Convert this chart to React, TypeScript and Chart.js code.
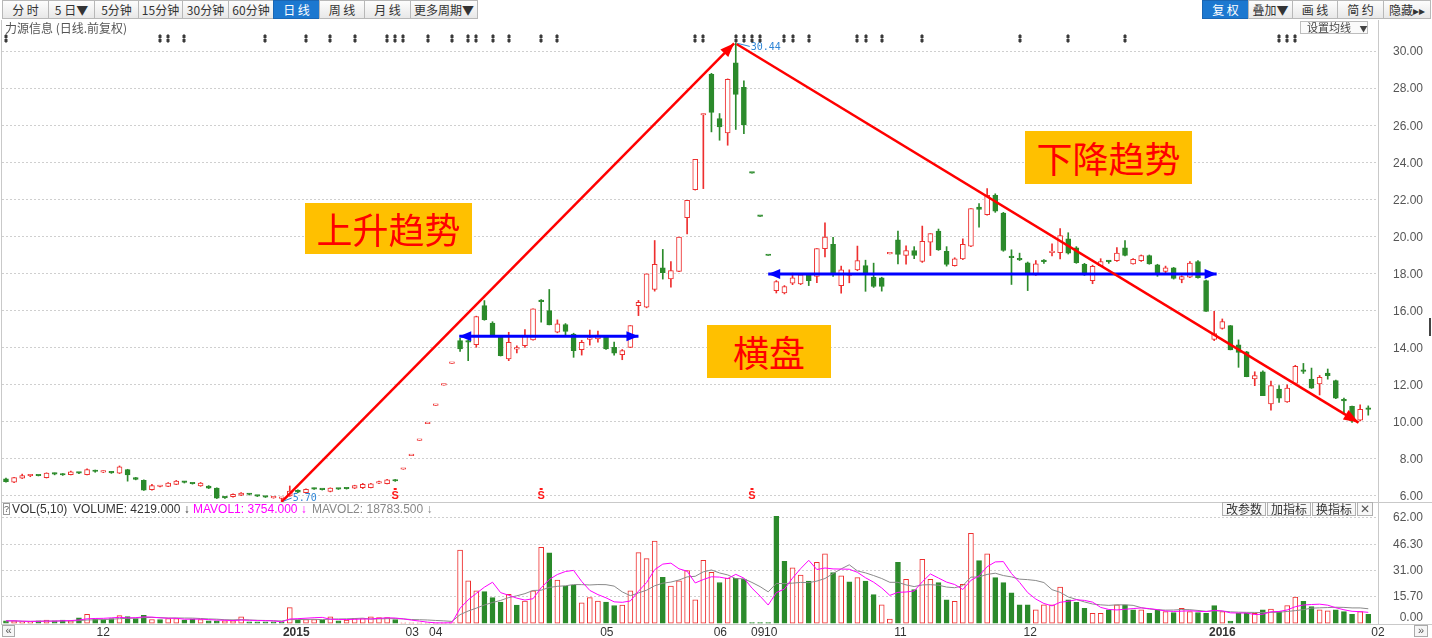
import React, { useEffect, useRef } from "react";
import { Chart, registerables } from "chart.js";

Chart.register(...registerables);

// ---------------- data (daily candles, index 0..168) ----------------
const opens = [
  6.93, 6.74, 6.96, 7.09, 7.11, 6.99, 7.20, 7.19, 7.15, 7.25,
  7.15, 7.34, 7.29, 7.27, 7.23, 7.42, 6.99, 6.85, 6.34, 6.51,
  6.52, 6.63, 6.75, 6.69, 6.54, 6.54, 6.42, 5.92, 5.96, 6.04,
  6.10, 6.01, 5.96, 5.90, 5.87, 6.00, 6.30, 6.18, 6.39, 6.36,
  6.24, 6.39, 6.41, 6.42, 6.45, 6.45, 6.69, 6.67, 6.87, 7.44,
  8.18, 9.00, 9.90, 10.89, 11.98, 13.15, 14.38, 14.35, 14.16, 16.27,
  15.33, 14.61, 13.39, 13.92, 14.11, 14.42, 16.50, 16.00, 14.83, 15.24,
  14.74, 13.89, 14.45, 14.47, 14.65, 14.02, 13.62, 14.02, 16.27, 16.18,
  17.14, 18.31, 17.71, 18.12, 21.01, 22.52, 26.55, 28.74, 26.36, 25.58,
  29.37, 28.04, 23.42, 21.08, 18.97, 17.08, 16.96, 17.48, 17.44, 17.93,
  17.85, 19.34, 19.57, 17.35, 17.90, 18.20, 18.43, 17.80, 17.77, 19.06,
  19.82, 18.97, 19.24, 18.65, 19.69, 20.29, 19.20, 18.43, 18.79, 19.48,
  21.58, 21.17, 22.22, 21.26, 18.90, 18.78, 18.58, 17.93, 18.66, 19.13,
  19.12, 19.87, 19.39, 18.49, 17.62, 18.42, 18.66, 18.70, 19.39, 18.52,
  18.70, 18.97, 18.47, 18.11, 18.31, 17.68, 17.80, 18.65, 17.62, 14.45,
  15.04, 15.19, 14.16, 13.78, 12.31, 12.70, 10.96, 11.77, 11.08, 12.07,
  12.81, 12.31, 12.04, 12.63, 12.22, 11.15, 10.83, 10.09, 10.69,
];
const highs = [
  6.96, 7.01, 7.18, 7.16, 7.13, 7.25, 7.24, 7.21, 7.34, 7.28,
  7.46, 7.40, 7.36, 7.32, 7.62, 7.44, 7.00, 6.87, 6.63, 6.56,
  6.72, 6.84, 6.79, 6.70, 6.73, 6.56, 6.44, 5.95, 6.11, 6.18,
  6.13, 6.03, 5.98, 5.94, 5.91, 6.54, 6.33, 6.38, 6.42, 6.38,
  6.44, 6.41, 6.43, 6.58, 6.68, 6.68, 6.80, 6.90, 6.89, 7.44,
  8.18, 9.00, 9.90, 10.89, 11.98, 13.15, 14.50, 14.40, 15.70, 16.54,
  15.40, 14.63, 14.83, 14.10, 14.97, 16.09, 16.60, 17.14, 15.50, 15.30,
  14.78, 14.40, 14.95, 14.90, 14.66, 14.30, 13.90, 15.19, 16.55, 17.98,
  19.78, 19.30, 18.65, 19.96, 21.95, 24.16, 26.60, 28.80, 26.63, 28.50,
  30.44, 28.40, 23.42, 21.08, 18.97, 17.62, 17.35, 18.02, 17.97, 17.96,
  19.34, 20.74, 19.95, 18.40, 18.20, 19.48, 18.72, 18.56, 17.80, 19.06,
  20.29, 19.50, 19.45, 20.56, 20.15, 20.40, 19.45, 18.85, 19.87, 21.50,
  21.77, 22.58, 22.30, 21.30, 19.28, 19.10, 18.62, 18.70, 18.75, 19.60,
  20.42, 20.20, 19.45, 18.55, 18.45, 18.80, 18.70, 19.40, 19.78, 18.80,
  19.00, 19.00, 18.50, 18.40, 18.33, 17.88, 18.65, 18.70, 17.65, 15.96,
  15.55, 15.20, 14.42, 13.80, 12.70, 12.75, 12.20, 11.95, 12.00, 13.05,
  13.15, 12.90, 12.50, 12.85, 12.25, 11.28, 10.85, 10.92, 10.86,
];
const lows = [
  6.74, 6.72, 6.94, 7.04, 7.08, 6.97, 7.14, 7.11, 7.13, 7.20,
  7.13, 7.28, 7.26, 7.22, 7.21, 6.80, 6.87, 6.30, 6.32, 6.49,
  6.50, 6.61, 6.70, 6.64, 6.52, 6.40, 5.86, 5.87, 5.94, 6.02,
  6.05, 5.97, 5.92, 5.88, 5.70, 5.98, 6.18, 6.16, 6.35, 6.32,
  6.22, 6.35, 6.37, 6.40, 6.40, 6.43, 6.67, 6.65, 6.79, 7.44,
  8.18, 9.00, 9.90, 10.89, 11.98, 13.15, 13.80, 13.30, 14.02, 15.48,
  14.68, 13.55, 13.30, 13.72, 14.02, 14.40, 15.37, 15.23, 14.80, 14.70,
  13.48, 13.60, 14.14, 14.30, 13.90, 13.60, 13.35, 14.00, 15.73, 16.15,
  17.05, 17.70, 17.26, 18.10, 20.14, 22.50, 22.58, 25.64, 25.19, 24.92,
  25.77, 25.55, 23.42, 21.08, 18.97, 16.95, 16.90, 17.40, 17.40, 17.35,
  17.50, 18.90, 17.85, 16.94, 17.50, 18.15, 17.04, 17.25, 17.05, 19.06,
  18.52, 18.50, 18.80, 18.60, 18.97, 19.25, 18.40, 18.40, 18.75, 19.45,
  20.50, 21.15, 21.30, 19.20, 17.41, 18.70, 17.08, 17.90, 18.55, 18.95,
  18.79, 19.05, 18.55, 17.90, 17.45, 18.40, 18.55, 18.65, 18.95, 18.50,
  18.65, 18.50, 17.85, 18.00, 17.70, 17.50, 17.78, 17.75, 15.96, 14.38,
  15.00, 13.88, 12.94, 12.43, 11.95, 11.41, 10.63, 11.05, 11.05, 12.05,
  12.61, 11.80, 11.45, 12.30, 11.25, 10.50, 9.97, 10.05, 10.36,
];
const closes = [
  6.77, 6.99, 7.10, 7.11, 7.09, 7.23, 7.18, 7.13, 7.30, 7.23,
  7.42, 7.32, 7.31, 7.25, 7.57, 7.14, 6.89, 6.32, 6.56, 6.53,
  6.70, 6.81, 6.73, 6.66, 6.70, 6.42, 5.88, 5.90, 6.09, 6.16,
  6.08, 5.99, 5.94, 5.92, 5.89, 6.27, 6.20, 6.36, 6.37, 6.34,
  6.42, 6.37, 6.39, 6.56, 6.63, 6.65, 6.78, 6.87, 6.81, 7.44,
  8.18, 9.00, 9.90, 10.89, 11.98, 13.15, 13.93, 14.30, 15.68, 15.51,
  14.70, 13.57, 14.29, 13.95, 14.65, 16.09, 16.48, 15.23, 15.28, 14.88,
  13.84, 14.29, 14.48, 14.68, 13.93, 13.70, 13.84, 15.19, 16.45, 17.98,
  18.49, 18.04, 18.16, 19.96, 21.95, 24.16, 26.60, 26.69, 25.91, 28.47,
  27.66, 26.02, 23.42, 21.08, 18.97, 17.57, 17.30, 17.77, 17.93, 17.62,
  19.34, 19.96, 17.98, 18.20, 18.00, 18.70, 18.02, 17.30, 17.30, 19.06,
  19.03, 19.24, 18.97, 19.73, 20.15, 19.28, 18.49, 18.79, 19.57, 21.50,
  21.46, 22.22, 21.37, 19.24, 18.86, 18.74, 17.93, 18.52, 18.64, 19.17,
  20.05, 19.10, 18.58, 17.93, 18.39, 18.65, 18.64, 19.10, 18.97, 18.76,
  18.97, 18.52, 18.02, 18.31, 17.74, 17.84, 18.56, 17.77, 15.96, 14.76,
  15.41, 13.88, 13.75, 12.43, 12.49, 11.41, 11.95, 11.28, 11.82, 12.99,
  12.72, 11.82, 12.40, 12.49, 11.28, 11.13, 10.05, 10.68, 10.67,
];
const volumes = [
  1.6, 1.6, 1.0, 1.0, 1.6, 2.0, 1.6, 2.0, 1.6, 3.3,
  5.5, 2.6, 2.4, 3.0, 4.7, 4.1, 3.0, 4.9, 2.4, 2.4,
  3.0, 3.0, 2.0, 2.6, 2.4, 1.6, 1.6, 1.6, 1.6, 3.9,
  1.0, 1.0, 1.0, 1.0, 1.0, 9.4, 2.0, 2.4, 2.4, 2.0,
  3.9, 1.6, 2.0, 3.0, 3.0, 3.9, 3.5, 3.5, 2.4, 0.5,
  0.4, 0.4, 0.4, 0.4, 0.5, 0.6, 43.1, 25.1, 19.2, 18.8,
  15.2, 12.6, 17.2, 10.8, 13.2, 19.2, 44.7, 41.5, 25.5, 22.0,
  22.4, 12.2, 15.2, 13.2, 12.6, 10.6, 10.8, 19.2, 41.7, 38.1,
  48.5, 27.1, 22.0, 25.1, 31.1, 14.0, 37.1, 30.1, 24.1, 26.7,
  26.5, 26.1, 0.6, 0.6, 0.6, 63.0, 36.5, 32.7, 28.5, 25.0,
  36.0, 41.0, 30.0, 28.0, 24.5, 27.0, 25.0, 17.0, 11.0, 2.7,
  36.0, 26.0, 20.0, 37.7, 26.0, 24.0, 14.0, 13.0, 23.0, 53.0,
  37.0, 41.0, 27.0, 24.0, 18.0, 11.0, 11.0, 8.0, 11.0, 11.0,
  21.5, 14.0, 12.5, 9.0, 6.0, 6.0, 8.0, 11.0, 11.0, 8.0,
  8.0, 6.0, 8.0, 7.0, 6.5, 9.0, 7.0, 6.5, 6.0, 10.5,
  7.0, 1.5, 6.0, 6.0, 6.0, 8.0, 8.5, 7.0, 10.5, 15.5,
  13.0, 10.0, 8.0, 7.5, 8.0, 7.0, 5.5, 7.0, 5.5,
];

const priceTicks = [6, 8, 10, 12, 14, 16, 18, 20, 22, 24, 26, 28, 30];
const volTicks = [0, 15.7, 31, 46.3, 62];
const monthLabels = ["12", "2015", "03", "04", "05", "06", "09", "10", "11", "12", "2016", "02"];
const monthAt = [12, 35.8, 50.1, 53, 74.1, 88.1, 92.7, 94.3, 110.3, 126.3, 150, 169.2];
const infoMarks = [0, 19, 20, 22, 32, 37, 40, 43, 47, 48, 49, 52, 55, 57, 58, 60, 62, 66, 68, 85, 86, 90, 91, 92, 93, 96, 97, 99, 105, 106, 108, 113, 125, 131, 138, 157, 158, 159];
const sMarks = [48, 66, 92];
const upTrendX = [34, 89.8];
const upTrendY = [5.68, 30.42];
const downTrendX = [90.1, 166.8];
const downTrendY = [30.38, 9.96];
const rangeAX = [55.9, 78.0];
const rangeAY = [14.61, 14.61];
const rangeBX = [94.0, 149.3];
const rangeBY = [17.98, 17.98];

// ---------------- styling ----------------
const FONT = '"Liberation Sans", Arial, sans-serif';
const CJK = '"Noto Sans CJK SC", "Liberation Sans", sans-serif';
const RED = "#ee2f2f";
const GREEN = "#2b8a2b";
const X_MIN = -0.49;
const X_MAX = 169.2;

const movingAvg = (arr: number[], n: number) =>
  arr.map((_, i) => {
    let s = 0;
    let c = 0;
    for (let k = Math.max(0, i - n + 1); k <= i; k++) {
      s += arr[k];
      c++;
    }
    return s / c;
  });

function drawHead(ctx: CanvasRenderingContext2D, tx: number, ty: number, fx: number, fy: number, len: number, wid: number, color: string) {
  const a = Math.atan2(ty - fy, tx - fx);
  ctx.save();
  ctx.translate(tx, ty);
  ctx.rotate(a);
  ctx.beginPath();
  ctx.moveTo(0, 0);
  ctx.lineTo(-len, -wid / 2);
  ctx.lineTo(-len, wid / 2);
  ctx.closePath();
  ctx.fillStyle = color;
  ctx.fill();
  ctx.restore();
}

const leftBtns = ["分 时", "5 日▼", "5分钟", "15分钟", "30分钟", "60分钟", "日 线", "周 线", "月 线", "更多周期▼"];
const leftEdges = [2, 48, 94, 138, 182, 228, 273, 319, 364, 410, 477];
const rightBtns = ["复 权", "叠加▼", "画 线", "简 约", "隐藏▸▸"];
const rightEdges = [1202, 1248, 1292, 1337, 1383, 1430];

export default function App() {
  const priceRef = useRef<HTMLCanvasElement>(null);
  const volRef = useRef<HTMLCanvasElement>(null);

  useEffect(() => {
    const idx = opens.map((_, i) => i);
    const up = idx.map(
      (i) => closes[i] > opens[i] || (closes[i] === opens[i] && (i === 0 || closes[i] >= closes[i - 1]))
    );
    const volUp = idx.map((i) => (i === 0 ? closes[0] >= opens[0] : closes[i] >= closes[i - 1]));
    const ma5 = movingAvg(volumes, 5);
    const ma10 = movingAvg(volumes, 10);

    let maxI = 0;
    let minI = 0;
    idx.forEach((i) => {
      if (highs[i] > highs[maxI]) maxI = i;
      if (lows[i] < lows[minI]) minI = i;
    });

    const pricePlugin = {
      id: "priceDeco",
      afterDatasetsDraw(chart: any) {
        const { ctx, scales, chartArea } = chart;
        const x = scales.x;
        const y = scales.y;
        ctx.save();
        const m = (di: number) => chart.getDatasetMeta(di).data;
        const up0 = m(2);
        drawHead(ctx, up0[1].x, up0[1].y, up0[0].x, up0[0].y, 14, 11, "#ff0000");
        const dn = m(3);
        drawHead(ctx, dn[1].x, dn[1].y, dn[0].x, dn[0].y, 15, 11, "#ff0000");
        [4, 5].forEach((di) => {
          const p = m(di);
          drawHead(ctx, p[1].x, p[1].y, p[0].x, p[0].y, 12, 10, "#0000ff");
          drawHead(ctx, p[0].x, p[0].y, p[1].x, p[1].y, 12, 10, "#0000ff");
        });
        ctx.strokeStyle = "#2f86d6";
        ctx.fillStyle = "#2f86d6";
        ctx.lineWidth = 1;
        ctx.font = '10px "DejaVu Sans Mono", monospace';
        ctx.textBaseline = "middle";
        ctx.textAlign = "left";
        const hx = x.getPixelForValue(maxI);
        const hy = y.getPixelForValue(highs[maxI]);
        ctx.beginPath();
        ctx.moveTo(hx + 2, hy + 0.5);
        ctx.lineTo(hx + 14, hy + 3.5);
        ctx.stroke();
        ctx.fillText(highs[maxI].toFixed(2), hx + 15, hy + 4);
        const lx = x.getPixelForValue(minI);
        const ly = y.getPixelForValue(lows[minI]);
        ctx.beginPath();
        ctx.moveTo(lx + 2, ly - 0.5);
        ctx.lineTo(lx + 10, ly - 3.5);
        ctx.stroke();
        ctx.fillText(lows[minI].toFixed(2), lx + 11, ly - 3.5);
        ctx.fillStyle = "#ff1a1a";
        ctx.font = `bold 11px ${FONT}`;
        ctx.textAlign = "center";
        sMarks.forEach((i) => {
          const sx = x.getPixelForValue(i);
          ctx.fillText("S", sx, chartArea.bottom - 7);
          ctx.fillRect(sx - 1.5, chartArea.bottom - 15, 3, 2);
        });
        ctx.fillStyle = "#3a3a3a";
        infoMarks.forEach((i) => {
          const mx = Math.round(x.getPixelForValue(i));
          ctx.fillRect(mx - 0.5, 14, 1, 9);
          ctx.fillRect(mx - 1.5, 15, 3, 3);
          ctx.fillRect(mx - 1.5, 19, 3, 3);
        });
        ctx.fillStyle = "#555";
        ctx.font = `12px ${FONT}`;
        ctx.textAlign = "right";
        ctx.textBaseline = "middle";
        priceTicks.forEach((v) => ctx.fillText(v.toFixed(2), chartArea.right + 45, y.getPixelForValue(v) + 1));
        ctx.restore();
      },
    };

    const lineDs = (xs: number[], ys: number[], color: string, w: number) => ({
      type: "line",
      data: xs.map((xv, k) => ({ x: xv, y: ys[k] })),
      borderColor: color,
      borderWidth: w,
      pointRadius: 0,
      fill: false,
      order: 1,
    });

    const pc = new Chart(priceRef.current as HTMLCanvasElement, {
      type: "bar",
      data: {
        datasets: [
          {
            type: "bar",
            data: idx.map((i) => ({ x: i, y: [lows[i], highs[i]] })),
            backgroundColor: idx.map((i) => (up[i] ? RED : GREEN)),
            borderWidth: 0,
            barThickness: 1,
            grouped: false,
            order: 3,
          },
          {
            type: "bar",
            data: idx.map((i) => ({ x: i, y: [Math.min(opens[i], closes[i]), Math.max(opens[i], closes[i])] })),
            backgroundColor: idx.map((i) => (up[i] ? "#ffffff" : GREEN)),
            borderColor: idx.map((i) => (up[i] ? RED : GREEN)),
            borderWidth: 1,
            borderSkipped: false,
            barThickness: 5,
            minBarLength: 1.5,
            grouped: false,
            order: 2,
          },
          lineDs(upTrendX, upTrendY, "#ff0000", 2.5),
          lineDs(downTrendX, downTrendY, "#ff0000", 2.5),
          lineDs(rangeAX, rangeAY, "#0000ff", 3),
          lineDs(rangeBX, rangeBY, "#0000ff", 3),
        ] as any,
      },
      options: {
        animation: false,
        responsive: false,
        events: [],
        layout: { padding: { left: 2, right: 0, top: 0, bottom: 0 } },
        plugins: { legend: { display: false }, tooltip: { enabled: false } },
        scales: {
          x: { type: "linear", min: X_MIN, max: X_MAX, offset: false, display: false },
          y: {
            type: "linear",
            position: "right",
            min: 5.6216,
            max: 31.6757,
            afterBuildTicks: (s: any) => {
              s.ticks = priceTicks.map((v) => ({ value: v }));
            },
            afterFit: (s: any) => {
              s.width = 54;
            },
            ticks: { display: false, padding: 0 },
            grid: { color: "#cfcfcf", lineWidth: 1, drawTicks: false },
            border: { display: false, dash: [2, 2] },
          },
        },
      } as any,
      plugins: [pricePlugin],
    });

    const volPlugin = {
      id: "volDeco",
      afterDraw(chart: any) {
        const { ctx, scales, chartArea } = chart;
        ctx.save();
        ctx.fillStyle = "#555";
        ctx.font = `12px ${FONT}`;
        ctx.textAlign = "right";
        ctx.textBaseline = "middle";
        volTicks.forEach((v) => {
          const py = Math.min(scales.y.getPixelForValue(v), chartArea.bottom - 6.5);
          ctx.fillText(v.toFixed(2), chartArea.right + 45, py);
        });
        ctx.restore();
      },
    };

    const vc = new Chart(volRef.current as HTMLCanvasElement, {
      type: "bar",
      data: {
        datasets: [
          {
            type: "line",
            data: idx.map((i) => ({ x: i, y: ma5[i] })),
            borderColor: "#ff00ff",
            borderWidth: 1,
            pointRadius: 0,
            order: 0,
          },
          {
            type: "line",
            data: idx.map((i) => ({ x: i, y: ma10[i] })),
            borderColor: "#8a8a8a",
            borderWidth: 1,
            pointRadius: 0,
            order: 1,
          },
          {
            type: "bar",
            data: idx.map((i) => ({ x: i, y: volumes[i] })),
            backgroundColor: idx.map((i) => (volUp[i] ? "#ffffff" : GREEN)),
            borderColor: idx.map((i) => (volUp[i] ? RED : GREEN)),
            borderWidth: 1,
            borderSkipped: false,
            barThickness: 5,
            grouped: false,
            order: 2,
          },
        ] as any,
      },
      options: {
        animation: false,
        responsive: false,
        events: [],
        layout: { padding: { left: 2, right: 0, top: 0, bottom: 0 } },
        plugins: { legend: { display: false }, tooltip: { enabled: false } },
        scales: {
          x: {
            type: "linear",
            min: X_MIN,
            max: X_MAX,
            offset: false,
            position: "bottom",
            afterBuildTicks: (s: any) => {
              s.ticks = monthAt.map((v) => ({ value: v }));
            },
            afterFit: (s: any) => {
              s.height = 14;
            },
            grid: { display: false, drawTicks: false },
            border: { display: false },
            ticks: {
              autoSkip: false,
              maxRotation: 0,
              minRotation: 0,
              padding: 1,
              color: "#333",
              font: (c: any) => ({
                family: FONT,
                size: 12,
                weight: (monthLabels[c.index] || "").length === 4 ? "bold" : "normal",
              }),
              callback: (_v: any, i: number) => monthLabels[i],
            },
          },
          y: {
            type: "linear",
            position: "right",
            min: -0.25,
            max: 70.8,
            afterBuildTicks: (s: any) => {
              s.ticks = volTicks.map((v) => ({ value: v }));
            },
            afterFit: (s: any) => {
              s.width = 54;
            },
            ticks: { display: false, padding: 0 },
            grid: {
              color: (c: any) => (c.tick && c.tick.value === 0 ? "rgba(0,0,0,0)" : "#cfcfcf"),
              drawTicks: false,
            },
            border: { display: false, dash: [2, 2] },
          },
        },
      } as any,
      plugins: [volPlugin],
    });

    return () => {
      pc.destroy();
      vc.destroy();
    };
  }, []);

  const btn = (left: number, right: number, label: string, active: boolean, key: string) => (
    <div
      key={key}
      style={{
        position: "absolute",
        left,
        top: 0,
        width: right - left + 1,
        height: 19,
        boxSizing: "border-box",
        border: active ? "1px solid #1a66b3" : "1px solid #b8b8b8",
        background: active ? "#1c78d0" : "linear-gradient(#fdfdfd, #e8e8e8)",
        color: active ? "#fff" : "#333",
        font: `12px ${CJK}`,
        lineHeight: "17px",
        textAlign: "center",
        whiteSpace: "nowrap",
      }}
    >
      {label}
    </div>
  );

  const smallBtn = (left: number, width: number, label: string) => (
    <div
      key={label}
      style={{
        position: "absolute",
        left,
        top: 502,
        width,
        height: 14,
        boxSizing: "border-box",
        border: "1px solid #b0b0b0",
        background: "#f7f7f7",
        color: "#333",
        font: `12px ${CJK}`,
        lineHeight: "12px",
        textAlign: "center",
      }}
    >
      {label}
    </div>
  );

  const box = (left: number, top: number, w: number, h: number, text: string) => (
    <div
      key={text}
      style={{
        position: "absolute",
        left,
        top,
        width: w,
        height: h,
        background: "#ffc000",
        color: "#ff0000",
        font: `36px ${CJK}`,
        lineHeight: `${h}px`,
        textAlign: "center",
        whiteSpace: "nowrap",
      }}
    >
      {text}
    </div>
  );

  const line = (left: number, top: number, w: number, h: number, color: string, key: string) => (
    <div key={key} style={{ position: "absolute", left, top, width: w, height: h, background: color }} />
  );

  return (
    <div
      style={{
        position: "absolute",
        left: 0,
        top: 0,
        width: 1432,
        height: 638,
        overflow: "hidden",
        background: "#ffffff",
        fontFamily: FONT,
      }}
    >
      <canvas ref={priceRef} width={1432} height={483} style={{ position: "absolute", left: 0, top: 20 }} />
      <canvas ref={volRef} width={1432} height={135} style={{ position: "absolute", left: 0, top: 503 }} />

      {line(1, 20, 1, 605, "#c9c9c9", "l1")}
      {line(1378, 20, 1, 605, "#c9c9c9", "l2")}
      {line(1, 502, 1431, 1, "#c9c9c9", "l3")}
      {line(1, 624, 1431, 1, "#c9c9c9", "l4")}
      {line(1429, 318, 2, 18, "#444", "l5")}

      {leftBtns.map((b, k) => btn(leftEdges[k], leftEdges[k + 1], b, k === 6, "L" + k))}
      {rightBtns.map((b, k) => btn(rightEdges[k], rightEdges[k + 1], b, k === 0, "R" + k))}

      <div style={{ position: "absolute", left: 5, top: 21, font: `12px ${CJK}`, color: "#555", lineHeight: "14px" }}>
        力源信息 (日线.前复权)
      </div>
      <div
        style={{
          position: "absolute",
          left: 1300,
          top: 21,
          width: 68,
          height: 13,
          boxSizing: "border-box",
          border: "1px solid #bdbdbd",
          background: "#fafafa",
          font: `11px ${CJK}`,
          lineHeight: "11px",
          color: "#444",
          paddingLeft: 6,
          whiteSpace: "nowrap",
        }}
      >
        设置均线 <span style={{ fontSize: 8, marginLeft: 6 }}>▼</span>
      </div>

      {box(305, 203, 167, 51, "上升趋势")}
      {box(707, 325, 124, 53, "横盘")}
      {box(1025, 131, 167, 53, "下降趋势")}

      <div
        style={{
          position: "absolute",
          left: 3,
          top: 503,
          width: 7,
          height: 12,
          boxSizing: "border-box",
          border: "1px solid #999",
          font: `9px ${FONT}`,
          lineHeight: "10px",
          textAlign: "center",
          color: "#555",
        }}
      >
        ?
      </div>
      <div style={{ position: "absolute", left: 12, top: 502, font: `12px ${FONT}`, lineHeight: "15px", color: "#333", whiteSpace: "pre" }}>
        VOL(5,10)
      </div>
      <div style={{ position: "absolute", left: 73, top: 502, font: `12px ${FONT}`, lineHeight: "15px", color: "#333", whiteSpace: "pre" }}>
        VOLUME: 4219.000 ↓
      </div>
      <div style={{ position: "absolute", left: 193, top: 502, font: `12px ${FONT}`, lineHeight: "15px", color: "#ff00ff", whiteSpace: "pre" }}>
        MAVOL1: 3754.000 ↓
      </div>
      <div style={{ position: "absolute", left: 312, top: 502, font: `12px ${FONT}`, lineHeight: "15px", color: "#888", whiteSpace: "pre" }}>
        MAVOL2: 18783.500 ↓
      </div>
      {smallBtn(1222, 44, "改参数")}
      {smallBtn(1267, 44, "加指标")}
      {smallBtn(1312, 44, "换指标")}
      <div
        style={{
          position: "absolute",
          left: 1357,
          top: 502,
          width: 16,
          height: 14,
          boxSizing: "border-box",
          border: "1px solid #b0b0b0",
          background: "#f7f7f7",
          font: `12px ${FONT}`,
          lineHeight: "12px",
          textAlign: "center",
          color: "#555",
        }}
      >
        ✕
      </div>

      <div
        style={{
          position: "absolute",
          left: 2,
          top: 625,
          width: 13,
          height: 12,
          boxSizing: "border-box",
          border: "1px solid #aaa",
          font: `11px ${FONT}`,
          lineHeight: "9px",
          textAlign: "center",
          color: "#555",
          background: "#f6f6f6",
        }}
      >
        «
      </div>
      <div
        style={{
          position: "absolute",
          left: 1414,
          top: 625,
          width: 14,
          height: 12,
          boxSizing: "border-box",
          border: "1px solid #aaa",
          font: `11px ${FONT}`,
          lineHeight: "9px",
          textAlign: "center",
          color: "#555",
          background: "#f6f6f6",
        }}
      >
        »
      </div>
    </div>
  );
}
